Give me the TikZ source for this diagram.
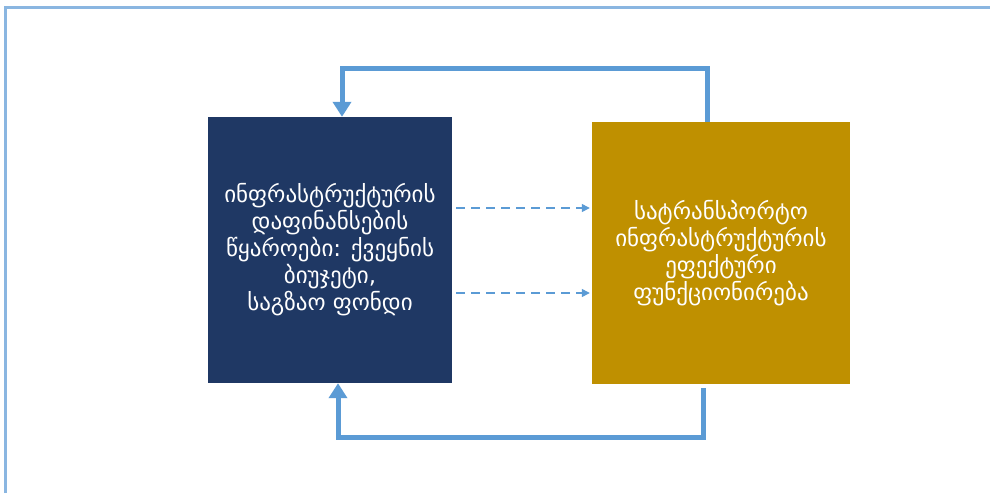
\documentclass[tikz,border=0pt]{standalone}
\usepackage{fontspec}
\newfontfamily\geofont[Script=Georgian]{DejaVu Sans}
\usetikzlibrary{arrows.meta}
\definecolor{navybox}{HTML}{1F3864}
\definecolor{goldbox}{HTML}{BF9000}
\definecolor{linkblue}{HTML}{5B9BD5}
\definecolor{framblue}{HTML}{8AB6E1}
\tikzset{
  box/.style={fill=#1, inner sep=0pt, text=white, align=center,
    font=\geofont\fontsize{23}{27}\selectfont},
  feedback/.style={draw=linkblue, line width=5pt,
    -{Triangle[width=18pt,length=15pt]}},
  flow/.style={draw=linkblue, line width=1.3pt, dash pattern=on 9pt off 6pt,
    -{Triangle[width=8pt,length=8pt]}},
}
\begin{document}
\begin{tikzpicture}[x=1pt,y=-1pt]
\useasboundingbox (0,0) rectangle (990,493);
% frame
\draw[framblue, line width=3pt] (5,493) -- (5,7) -- (990,7);
% boxes
\node[box=navybox, minimum width=244pt, minimum height=266pt] (left) at (330,250)
  {ინფრასტრუქტურის\\დაფინანსების\\წყაროები: ქვეყნის\\ბიუჯეტი,\\საგზაო ფონდი};
\node[box=goldbox, minimum width=258pt, minimum height=262pt] (right) at (721,253)
  {სატრანსპორტო\\ინფრასტრუქტურის\\ეფექტური\\ფუნქციონირება};
% connectors
\coordinate (topr) at (707,68);
\coordinate (topl) at (342,68);
\coordinate (botr) at (703,437);
\coordinate (botl) at (338,437);
\coordinate (dash1) at (456,208);
\coordinate (dash2) at (456,293);
\draw[feedback] (right.north -| topr) -- (topr) -- (topl) -- (left.north -| topl);
\draw[feedback] ([yshift=-4pt]right.south -| botr) -- (botr) -- (botl) -- (left.south -| botl);
\draw[flow] (dash1) -- ([xshift=-2pt]right.west |- dash1);
\draw[flow] (dash2) -- ([xshift=-2pt]right.west |- dash2);
\end{tikzpicture}
\end{document}
